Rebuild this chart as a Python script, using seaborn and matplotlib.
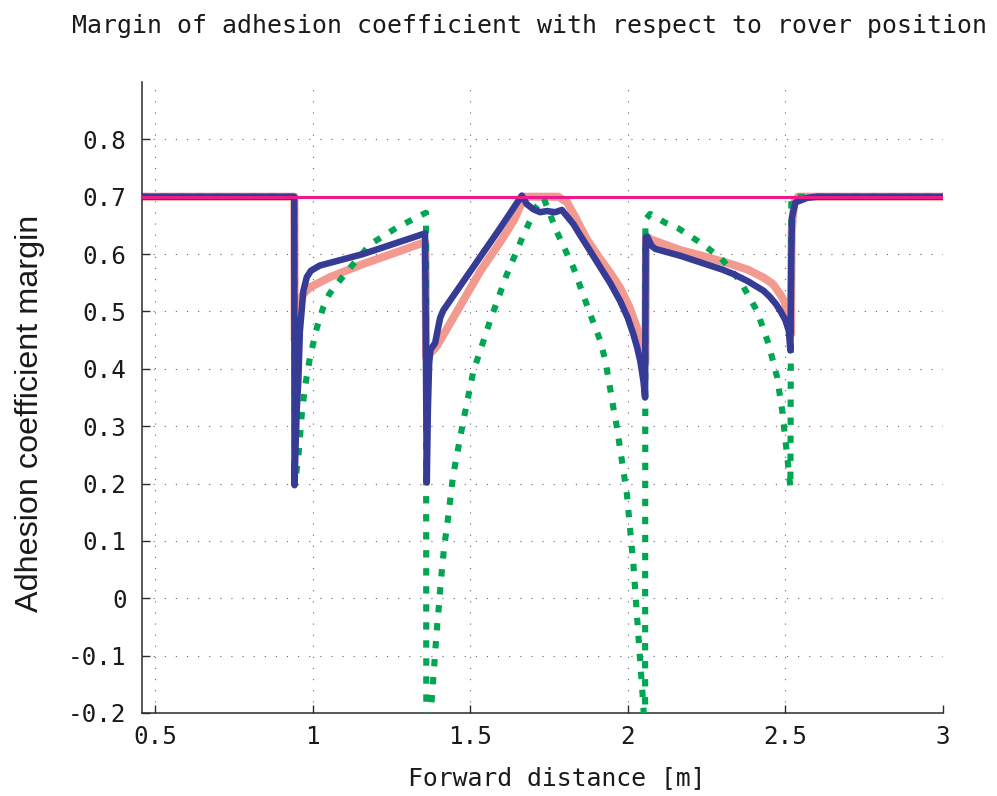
import matplotlib
matplotlib.use("Agg")
import matplotlib.pyplot as plt
import seaborn as sns

# ---------------- data ----------------
blue_x = [0.459, 0.942, 0.943, 0.946, 0.950, 0.955, 0.960, 0.971, 0.982, 0.995,
          1.023, 1.160, 1.357, 1.3625, 1.366, 1.370, 1.374, 1.389, 1.398, 1.405,
          1.415, 1.595, 1.664, 1.680, 1.701, 1.722, 1.743, 1.770, 1.791, 1.828,
          1.849, 1.880, 1.913, 1.945, 1.976, 2.000, 2.018, 2.030, 2.040, 2.050,
          2.055, 2.057, 2.062, 2.076, 2.088, 2.167, 2.250, 2.300, 2.336, 2.380,
          2.431, 2.450, 2.470, 2.484, 2.500, 2.511, 2.516, 2.519, 2.521, 2.532,
          2.569, 2.600, 3.000]
blue_y = [0.700, 0.700, 0.197, 0.260, 0.330, 0.379, 0.466, 0.536, 0.560, 0.571,
          0.580, 0.600, 0.636, 0.202, 0.330, 0.410, 0.433, 0.445, 0.470, 0.489,
          0.502, 0.645, 0.702, 0.687, 0.678, 0.673, 0.675, 0.673, 0.677, 0.652,
          0.633, 0.606, 0.577, 0.549, 0.518, 0.489, 0.460, 0.437, 0.413, 0.378,
          0.350, 0.629, 0.630, 0.614, 0.609, 0.597, 0.582, 0.573, 0.565, 0.553,
          0.536, 0.526, 0.513, 0.501, 0.485, 0.466, 0.432, 0.600, 0.664, 0.690,
          0.698, 0.700, 0.700]

salmon_x = [0.459, 0.9425, 0.9435, 0.955, 0.970, 0.992, 1.056, 1.162, 1.250, 1.352,
            1.358, 1.3605, 1.384, 1.395, 1.532, 1.600, 1.640, 1.672, 1.780, 1.808,
            1.828, 1.871, 1.913, 1.945, 1.976, 2.005, 2.029, 2.045, 2.052, 2.056,
            2.058, 2.071, 2.167, 2.250, 2.325, 2.380, 2.431, 2.460, 2.484, 2.497,
            2.505, 2.514, 2.518, 2.520, 2.528, 2.540, 3.000]
salmon_y = [0.700, 0.700, 0.450, 0.510, 0.530, 0.542, 0.560, 0.583, 0.600, 0.620,
            0.620, 0.420, 0.433, 0.440, 0.570, 0.625, 0.660, 0.700, 0.700, 0.690,
            0.670, 0.625, 0.591, 0.567, 0.541, 0.508, 0.472, 0.437, 0.410, 0.410,
            0.632, 0.626, 0.607, 0.595, 0.583, 0.573, 0.559, 0.548, 0.530, 0.517,
            0.501, 0.480, 0.460, 0.640, 0.690, 0.700, 0.700]

green_x = [0.459, 0.942, 0.944, 0.955, 0.966, 0.976, 0.992, 1.014, 1.034, 1.053,
           1.066, 1.119, 1.183, 1.267, 1.352, 1.360, 1.361, 1.372, 1.376, 1.380,
           1.384, 1.388, 1.392, 1.396, 1.401, 1.405, 1.410, 1.418, 1.426, 1.446,
           1.478, 1.510, 1.563, 1.616, 1.669, 1.711, 1.733, 1.775, 1.828, 1.881,
           1.913, 1.929, 1.940, 1.956, 1.965, 1.997, 2.018, 2.034, 2.050, 2.052,
           2.055, 2.056, 2.071, 2.118, 2.160, 2.230, 2.294, 2.357, 2.410, 2.447,
           2.474, 2.490, 2.505, 2.516, 2.519, 3.000]
green_y = [0.700, 0.700, 0.199, 0.246, 0.321, 0.368, 0.420, 0.472, 0.507, 0.530,
           0.540, 0.576, 0.617, 0.646, 0.670, 0.672, -0.250, -0.250, -0.193, -0.164,
           -0.133, -0.103, -0.072, -0.044, -0.013, 0.016, 0.046, 0.092, 0.122, 0.214,
           0.308, 0.395, 0.483, 0.564, 0.633, 0.683, 0.698, 0.639, 0.576, 0.495,
           0.449, 0.414, 0.379, 0.327, 0.300, 0.183, 0.058, -0.067, -0.191, -0.250,
           -0.250, 0.660, 0.670, 0.655, 0.645, 0.620, 0.594, 0.553, 0.501, 0.443,
           0.385, 0.327, 0.252, 0.193, 0.700, 0.700]

limit_x = [0.459, 3.000]
limit_y = [0.700, 0.700]

x_ticks = [0.5, 1.0, 1.5, 2.0, 2.5, 3.0]
x_tick_labels = ["0.5", "1", "1.5", "2", "2.5", "3"]
y_ticks = [0.8, 0.7, 0.6, 0.5, 0.4, 0.3, 0.2, 0.1, 0.0, -0.1, -0.2]
y_tick_labels = ["0.8", "0.7", "0.6", "0.5", "0.4", "0.3", "0.2", "0.1", "0", "-0.1", "-0.2"]

title_text = "Margin of adhesion coefficient with respect to rover position"
xlabel_text = "Forward distance [m]"
ylabel_text = "Adhesion coefficient margin"

# ---------------- styling ----------------
sns.set_theme(style="white")
plt.rcParams['font.family'] = ['DejaVu Sans Mono']
plt.rcParams['axes.unicode_minus'] = False

fig = plt.figure(figsize=(9.97, 7.96), dpi=100)
ax = fig.add_axes([0.1424, 0.1043, 0.8034, 0.7927])

SALMON = "#F29A90"
GREEN = "#00A651"
BLUE = "#363B96"
PINK = "#EC1A8C"

sns.lineplot(x=salmon_x, y=salmon_y, sort=False, estimator=None, ax=ax,
             color=SALMON, linewidth=5.8, zorder=2,
             solid_capstyle="round", solid_joinstyle="round")
sns.lineplot(x=green_x, y=green_y, sort=False, estimator=None, ax=ax,
             color=GREEN, linewidth=4.4, zorder=3, dash_capstyle="butt")
ax.lines[-1].set_dashes((1.2, 1.75))
sns.lineplot(x=blue_x, y=blue_y, sort=False, estimator=None, ax=ax,
             color=BLUE, linewidth=4.7, zorder=4,
             solid_capstyle="round", solid_joinstyle="round")
sns.lineplot(x=limit_x, y=limit_y, sort=False, estimator=None, ax=ax,
             color=PINK, linewidth=2.2, zorder=5, solid_capstyle="round")

ax.set_xlim(0.459, 3.0)
ax.set_ylim(-0.2, 0.9)
ax.set_xticks(x_ticks)
ax.set_xticklabels(x_tick_labels)
ax.set_yticks(y_ticks)
ax.set_yticklabels(y_tick_labels)
ax.set_xlabel("")
ax.set_ylabel("")

ax.grid(True, color="#666666", linewidth=0.8, linestyle=(0, (1, 9)))
ax.set_axisbelow(True)

for s in ["top", "right"]:
    ax.spines[s].set_visible(False)
for s in ["left", "bottom"]:
    ax.spines[s].set_color("#2b2b2b")
    ax.spines[s].set_linewidth(1.1)

ax.tick_params(axis="both", which="both", direction="in", length=5.5, width=1.0,
               color="#2b2b2b", labelsize=17.5, labelcolor="#1a1a1a",
               left=True, bottom=True, top=False, right=False)
ax.tick_params(axis="y", pad=11)
ax.tick_params(axis="x", pad=9)

fig.text(0.531, 1 - 33 / 796, title_text, ha="center", va="baseline",
         fontsize=17.95, color="#1a1a1a")
fig.text(0.558, 1 - 785 / 796, xlabel_text, ha="center", va="baseline",
         fontsize=17.8, color="#1a1a1a")
fig.text(38 / 997, 1 - 413 / 796, ylabel_text, ha="center", va="baseline",
         rotation=90, rotation_mode="anchor", fontsize=23.3, color="#1a1a1a",
         family=["Liberation Sans", "DejaVu Sans"])

fig.savefig("out.png", dpi=100)
